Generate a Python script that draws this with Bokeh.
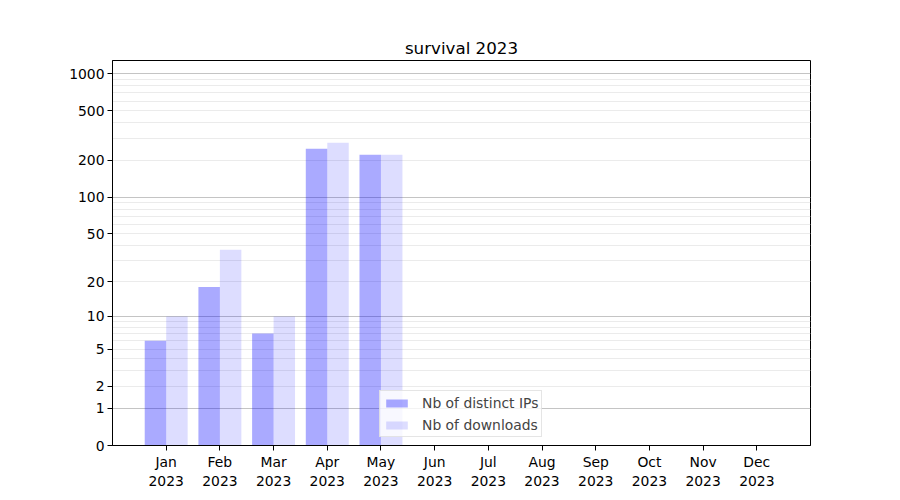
import numpy as np
from bokeh.plotting import figure
from bokeh.models import FixedTicker, Grid, Legend, LegendItem, Range1d, ColumnDataSource
from bokeh.embed import file_html
from bokeh.resources import INLINE

title = "survival 2023"
months = ["Jan", "Feb", "Mar", "Apr", "May", "Jun", "Jul", "Aug", "Sep", "Oct", "Nov", "Dec"]
year = "2023"
ips = [6, 18, 7, 247, 221, 0, 0, 0, 0, 0, 0, 0]
downloads = [10, 37, 10, 276, 221, 0, 0, 0, 0, 0, 0, 0]
y_tick_values = [0, 1, 2, 5, 10, 20, 50, 100, 200, 500, 1000]
y_major_grid = [1, 10, 100, 1000]
y_minor_grid = [2, 3, 4, 5, 6, 7, 8, 9, 20, 30, 40, 50, 60, 70, 80, 90,
                200, 300, 400, 500, 600, 700, 800, 900]


def tf(v):
    return np.log10(1.0 + np.asarray(v, dtype=float))


FONT = "DejaVu Sans"
x = np.arange(len(months))
src = ColumnDataSource(dict(
    x_ip=x - 0.2, x_dl=x + 0.2,
    ip=tf(ips), dl=tf(downloads),
))

p = figure(frame_width=698, frame_height=385,
           min_border_left=112, min_border_right=74,
           min_border_top=60, min_border_bottom=39,
           output_backend="svg", toolbar_location=None,
           x_range=Range1d(-1.0, 12.0), y_range=Range1d(0, 3.107),
           title=title)

p.title.text_font = FONT
p.title.text_font_size = "16.7px"
p.title.text_font_style = "normal"
p.title.align = "center"
p.title.text_color = "black"
p.title.standoff = 6

p.xgrid.visible = False
p.ygrid.visible = False
p.add_layout(Grid(dimension=1, ticker=FixedTicker(ticks=list(tf(y_minor_grid))),
                  grid_line_color="#ebebeb", grid_line_width=1))
p.add_layout(Grid(dimension=1, ticker=FixedTicker(ticks=list(tf(y_major_grid))),
                  grid_line_color="#c4c4c4", grid_line_width=1))

r1 = p.vbar(x="x_ip", top="ip", bottom=0, width=0.4, source=src,
            fill_color="blue", fill_alpha=0.333, line_color=None)
r2 = p.vbar(x="x_dl", top="dl", bottom=0, width=0.4, source=src,
            fill_color="blue", fill_alpha=0.135, line_color=None)

p.outline_line_color = "black"
p.outline_line_width = 1
p.outline_line_alpha = 1

for ax in (p.xaxis[0], p.yaxis[0]):
    ax.axis_line_color = "black"
    ax.major_tick_line_color = "black"
    ax.major_tick_in = 0
    ax.major_tick_out = 5
    ax.minor_tick_line_color = None
    ax.major_label_text_font = FONT
    ax.major_label_text_font_size = "13.9px"
    ax.major_label_text_color = "black"
    ax.major_label_standoff = 3

p.xaxis[0].ticker = FixedTicker(ticks=list(range(len(months))))
p.xaxis[0].major_label_overrides = {i: f"{m}\n{year}" for i, m in enumerate(months)}

yt = tf(y_tick_values)
p.yaxis[0].ticker = FixedTicker(ticks=list(yt))
p.yaxis[0].major_label_overrides = {float(t): str(v) for t, v in zip(yt, y_tick_values)}

legend = Legend(items=[LegendItem(label="Nb of distinct IPs", renderers=[r1]),
                       LegendItem(label="Nb of downloads", renderers=[r2])],
                location=(267, 8), orientation="vertical",
                label_text_font=FONT, label_text_font_size="13.9px",
                glyph_width=27, glyph_height=10, label_height=17,
                label_standoff=12, spacing=5, padding=3, margin=0,
                border_line_color="#cccccc", border_line_width=1,
                background_fill_color="white", background_fill_alpha=0.8)
p.add_layout(legend)

open("out.html", "w").write(file_html(p, INLINE))
